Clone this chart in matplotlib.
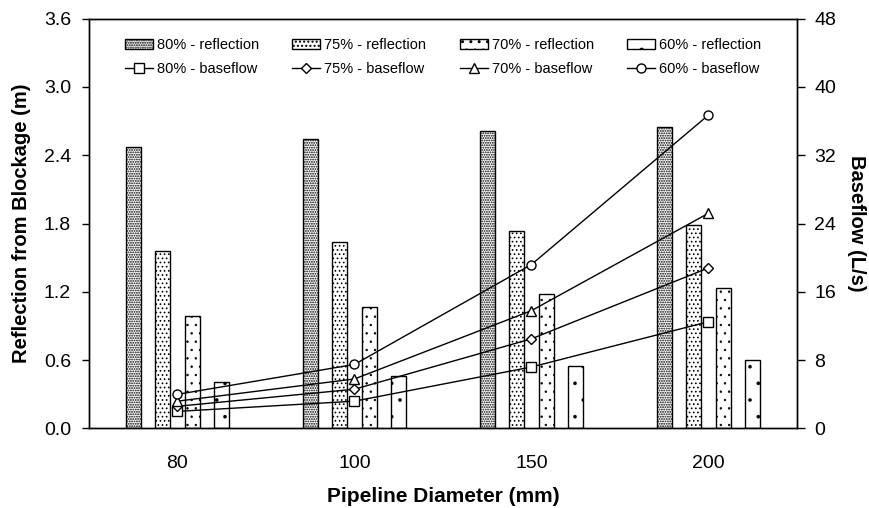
import matplotlib
matplotlib.use("Agg")
import matplotlib.pyplot as plt
import numpy as np

plt.rcParams['font.family'] = ['Liberation Sans', 'DejaVu Sans']

diameters = ["80", "100", "150", "200"]
blockages = ["80%", "75%", "70%", "60%"]

# Reflection from blockage (m)
refl_80 = [2.47, 2.54, 2.61, 2.65]
refl_75 = [1.56, 1.64, 1.73, 1.79]
refl_70 = [0.99, 1.07, 1.18, 1.23]
refl_60 = [0.41, 0.46, 0.55, 0.60]

# Baseflow (L/s)
base_80 = [2.0, 3.2, 7.2, 12.5]
base_75 = [2.6, 4.6, 10.5, 18.8]
base_70 = [3.2, 5.8, 13.8, 25.2]
base_60 = [4.0, 7.5, 19.2, 36.7]

refl = [refl_80, refl_75, refl_70, refl_60]
base = [base_80, base_75, base_70, base_60]
hatches = ['.......', '....', '..', '.']
hatch_lw = [0.9, 0.7, 0.5, 0.2]
markers = ['s', 'D', '^', 'o']
msizes = [6.5, 5.0, 6.5, 6.5]

fig = plt.figure(figsize=(8.7, 5.08), dpi=100)
ax = fig.add_axes([0.1023, 0.1565, 0.8137, 0.807])
ax2 = ax.twinx()

x = np.arange(len(diameters))
width = 0.085
step = 0.167
bar_handles = []
for i, (vals, h) in enumerate(zip(refl, hatches)):
    with plt.rc_context({'hatch.linewidth': hatch_lw[i]}):
        b = ax.bar(x + (i - 1.5) * step, vals, width, facecolor='white',
                   edgecolor='black', hatch=h, linewidth=1.0,
                   label=f"{blockages[i]} - reflection")
    bar_handles.append(b)

line_handles = []
for i, (vals, m) in enumerate(zip(base, markers)):
    l, = ax2.plot(x, vals, color='black', lw=1.0, marker=m, markersize=msizes[i],
                  markerfacecolor='white', markeredgecolor='black', markeredgewidth=1.0,
                  label=f"{blockages[i]} - baseflow")
    line_handles.append(l)

ax.set_xlim(-0.5, 3.5)
ax.set_ylim(0, 3.6)
ax2.set_ylim(0, 48)
ax.set_yticks(np.arange(0, 3.61, 0.6))
ax.set_yticklabels([f"{v:.1f}" for v in np.arange(0, 3.61, 0.6)])
ax2.set_yticks(np.arange(0, 49, 8))
ax.set_xticks(x)
ax.set_xticklabels(diameters)
ax.tick_params(axis='x', length=0, pad=19, labelsize=14)
ax.tick_params(axis='y', direction='out', length=5, width=1, pad=8, labelsize=14)
ax2.tick_params(axis='y', direction='out', length=5.5, width=1, pad=7, labelsize=14)
for a in (ax, ax2):
    for s in a.spines.values():
        s.set_linewidth(1.0)

ax.set_xlabel("Pipeline Diameter (mm)", fontsize=15, fontweight='bold', labelpad=11)
ax.set_ylabel("Reflection from Blockage (m)", fontsize=14.5, fontweight='bold', labelpad=9)
ax2.set_ylabel("Baseflow (L/s)", fontsize=14.5, fontweight='bold', rotation=270,
               va='bottom', labelpad=8)

handles = []
for b, l in zip(bar_handles, line_handles):
    handles += [b, l]
leg = ax2.legend(handles=handles, ncol=4, frameon=False, loc='upper center',
                 bbox_to_anchor=(0.5, 0.985), fontsize=10.5, handlelength=1.92,
                 handletextpad=0.27, columnspacing=2.3, labelspacing=0.7)

fig.savefig("out.png", dpi=100)
